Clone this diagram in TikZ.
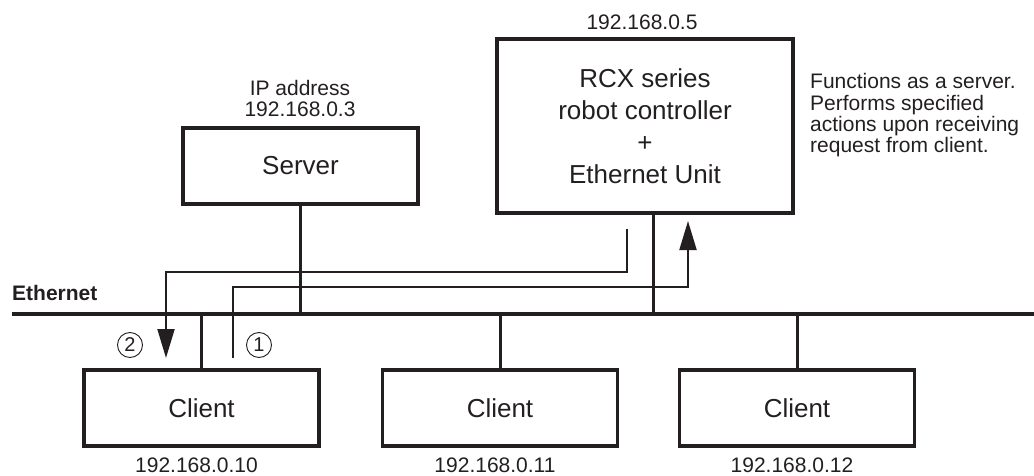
\documentclass[tikz,border=0pt]{standalone}
\usepackage{fontspec}
\setmainfont{Liberation Sans}
\usetikzlibrary{arrows.meta}
\usetikzlibrary{calc}
\definecolor{ink}{HTML}{231F20}

\begin{document}
\begin{tikzpicture}[x=1pt, y=-1pt,
  unit/.style={draw=ink, line width=3.2pt, minimum width=235pt, minimum height=76pt,
    inner sep=0pt, text=ink, align=center, font=\fontsize{26}{32}\selectfont},
  addr/.style={text=ink, inner sep=0pt, align=center, font=\fontsize{21}{21}\selectfont},
  bus/.style={draw=ink, line width=3.5pt},
  tap/.style={draw=ink, line width=3pt},
  msg/.style={draw=ink, line width=2pt, -{Triangle[length=29pt,width=17pt]}},
  circnum/.style={circle, draw=ink, line width=0.9pt, minimum size=25pt, inner sep=0pt,
    text=ink, font=\fontsize{20}{20}\selectfont}]
\useasboundingbox (0,0) rectangle (1034,476);

% network bus
\coordinate (ethW) at (12,314);
\coordinate (ethE) at (1034,314);
\draw[bus] (ethW) -- (ethE);
\node[anchor=west, text=ink, inner sep=0pt, font=\bfseries\fontsize{21}{21}\selectfont] (ethlabel) at (12,293) {Ethernet};

% server and controller
\node[unit] (server) at (300.5,166) {Server};
\node[addr] (serverip) at (300,98.5) {IP address\\192.168.0.3};
\node[unit, minimum width=296pt, minimum height=174pt] (rcx) at (645,126) {RCX series\\robot controller\\+\\Ethernet Unit};
\node[addr] (rcxip) at (642,22) {192.168.0.5};
\node[anchor=west, text=ink, inner sep=0pt, align=left, font=\fontsize{21}{21.3}\selectfont] (rcxnote) at (810,115.5)
  {Functions as a server.\\Performs specified\\actions upon receiving\\request from client.};

% clients
\foreach \name/\x/\ip in {clientA/201.5/10, clientB/500/11, clientC/797/12} {
  \node[unit] (\name) at (\x,408) {Client};
  \node[addr] (\name ip) at ($(\x,465)+(-5,0)$) {192.168.0.\ip};
  \draw[tap] (\name.north) -- (\name.north |- ethW);
}

% taps to the bus
\draw[tap] (server.south) -- (server.south |- ethW);
\coordinate (rcxtap) at ($(rcx.south)+(8,0)$);
\draw[tap] (rcxtap) -- (rcxtap |- ethW);

% request and reply
\coordinate (reqStart) at (233,358);
\coordinate (reqEnd) at (688,221);
\draw[msg] (reqStart) -- ++(0,-71) -| (reqEnd);
\coordinate (repStart) at ($(rcx.south)+(-18,14)$);
\coordinate (repEnd) at (166,358);
\draw[msg] (repStart) -- ++(0,43) -| (repEnd);
\node[circnum] (stepone) at (259,345) {1};
\node[circnum] (steptwo) at (130,345) {2};
\end{tikzpicture}
\end{document}
